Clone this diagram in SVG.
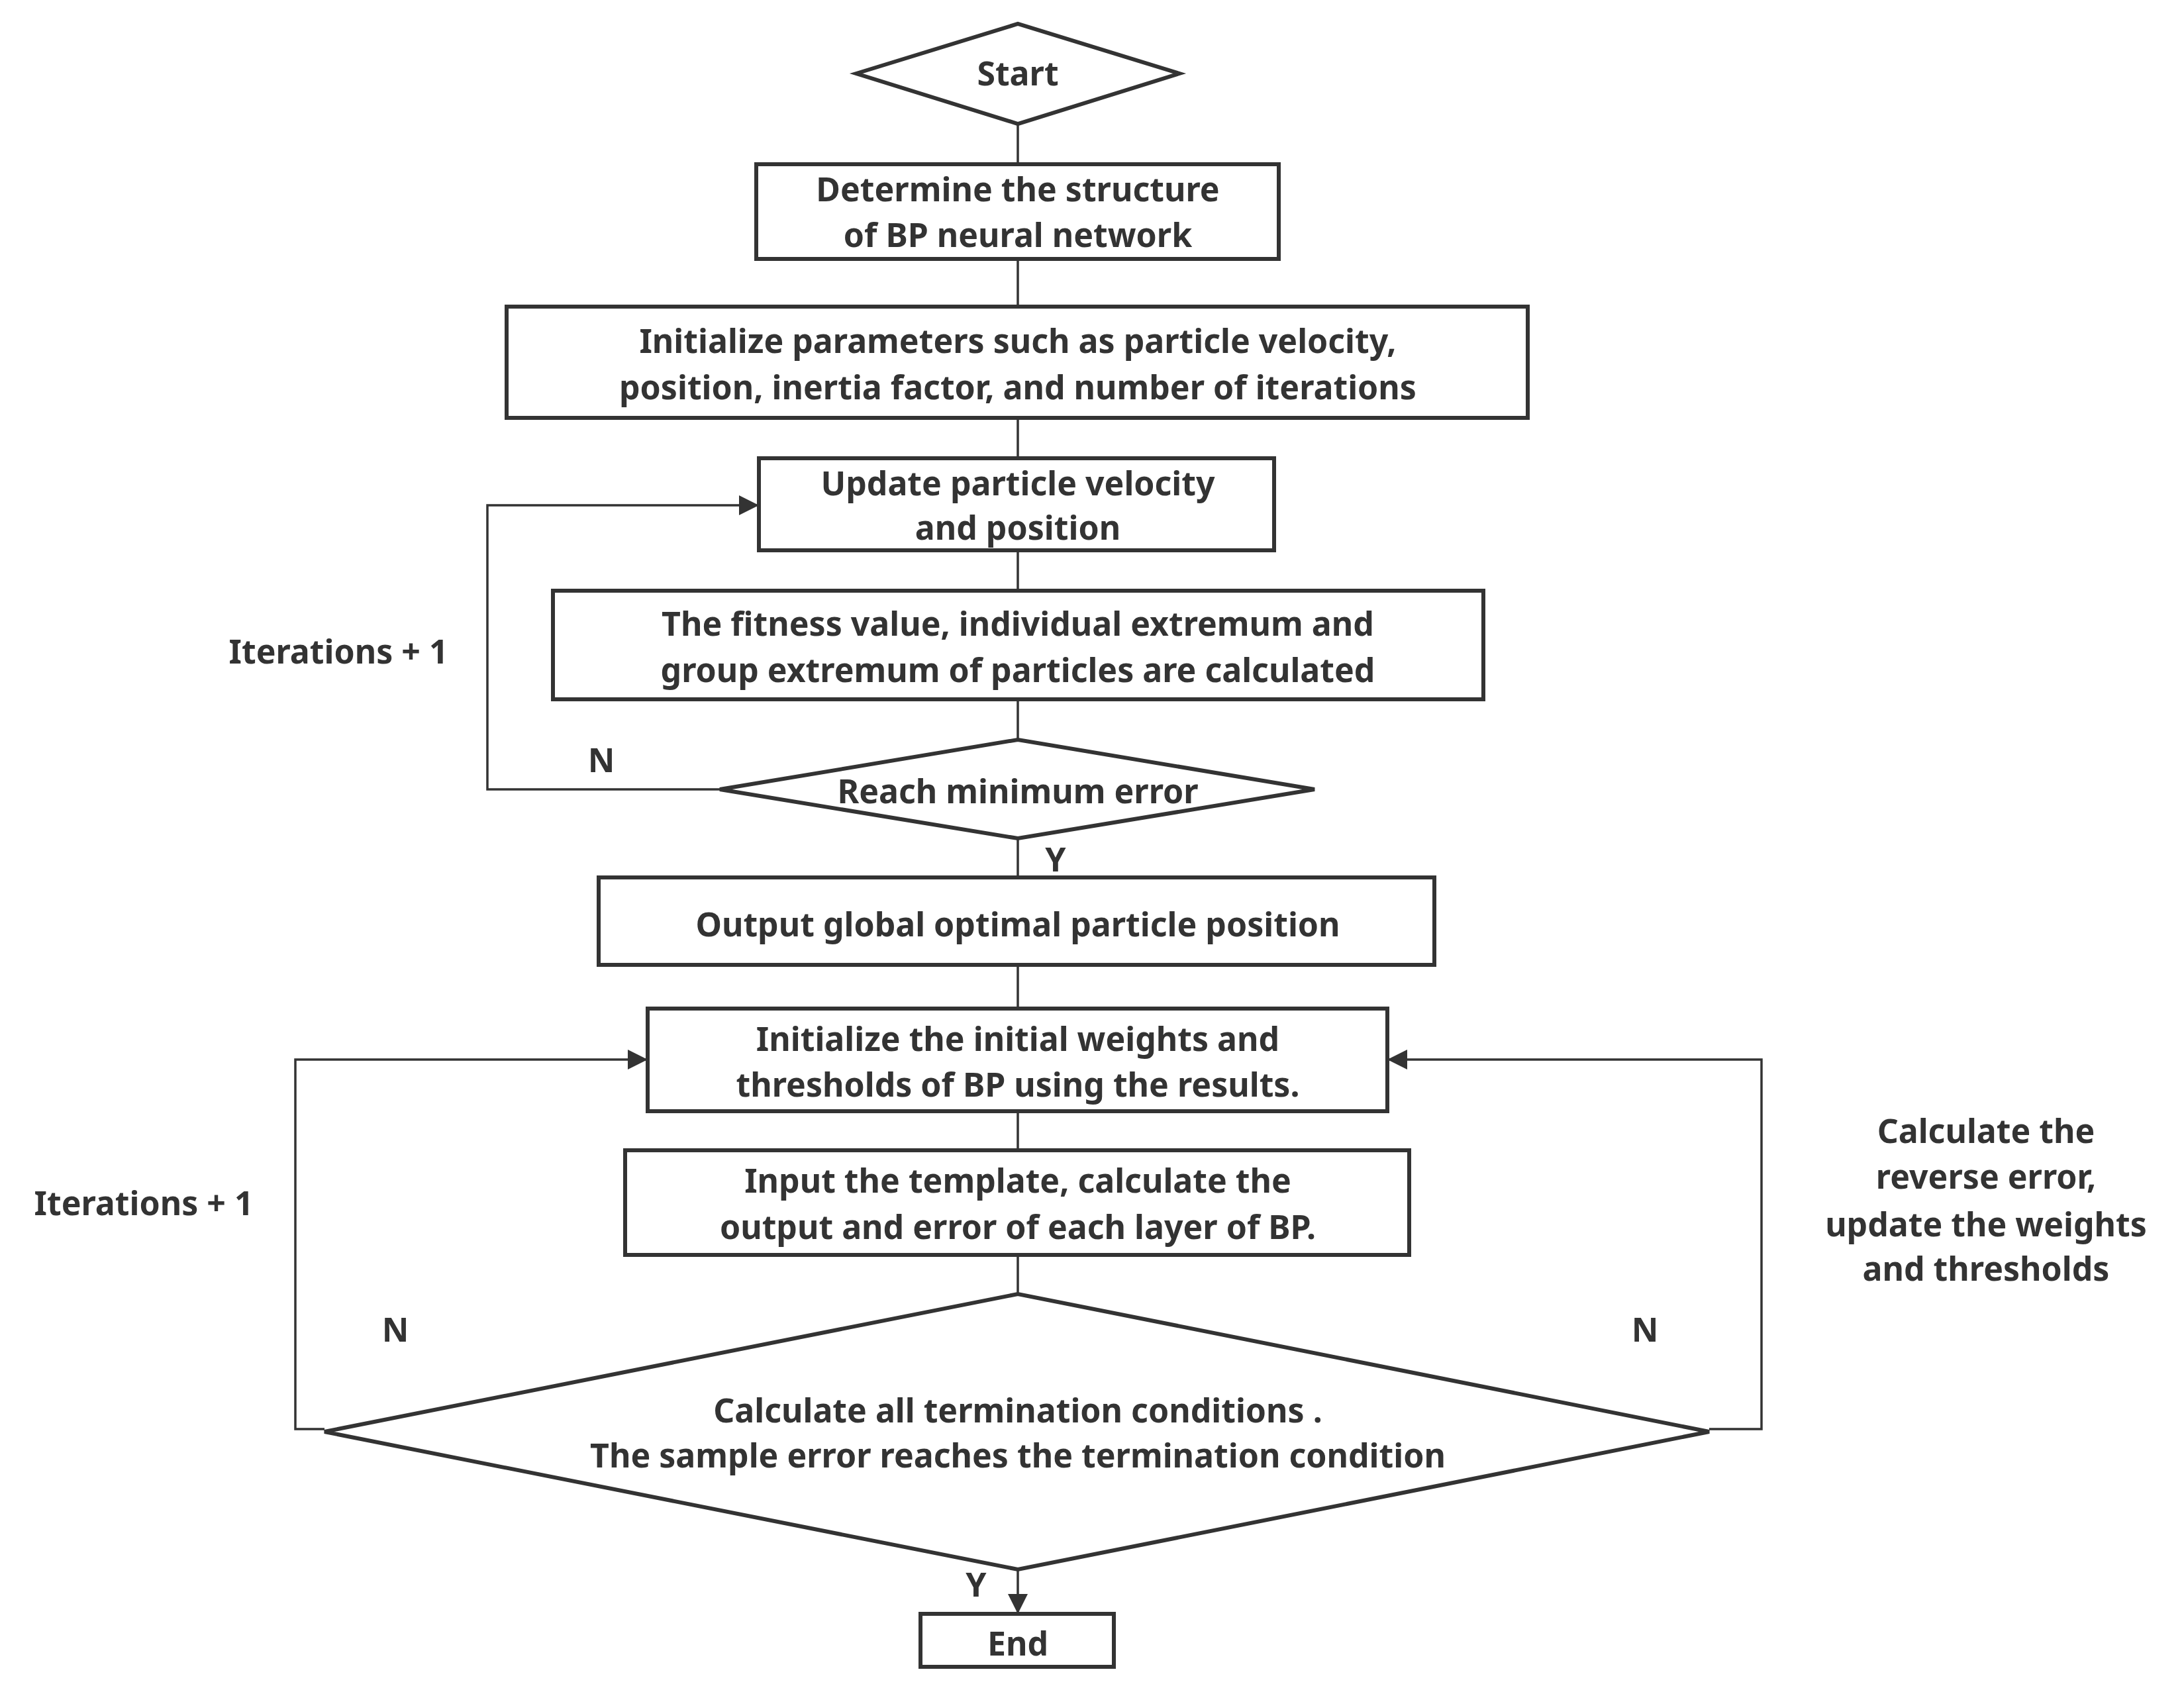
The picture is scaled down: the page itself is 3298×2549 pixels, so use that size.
<svg xmlns="http://www.w3.org/2000/svg" width="3298" height="2549" viewBox="0 0 3298 2549">
<defs>
<marker id="a" markerWidth="10" markerHeight="8" refX="9" refY="4" orient="auto" markerUnits="userSpaceOnUse" viewBox="0 0 10 8">
</marker>
<marker id="ar" viewBox="0 0 10 10" refX="10" refY="5" markerWidth="30" markerHeight="30" markerUnits="userSpaceOnUse" orient="auto"><path d="M0,0 L10,5 L0,10 z" fill="#333"/></marker>
</defs>
<style>
.s{fill:#fff;stroke:#333;stroke-width:6}
.l{fill:none;stroke:#333;stroke-width:3.5}
text{font-family:"Noto Sans","Open Sans",sans-serif;font-weight:bold;font-size:50px;fill:#333;text-anchor:middle}
</style>
<rect width="3298" height="2549" fill="#fff"/>
<g id="connectors">
<path class="l" d="M1537,187V248M1537,391V463M1537,631V692M1537,831V892M1537,1056V1117M1537,1266V1325M1537,1457V1523M1537,1678V1737M1537,1895V1954M1537,2370V2437" marker-end="url(#ar)"/>
<path class="l" d="M1087,1192H736V763H1146" marker-end="url(#ar)"/>
<path class="l" d="M490,2158H446V1600H978" marker-end="url(#ar)"/>
<path class="l" d="M2581,2158H2660V1600H2095" marker-end="url(#ar)"/>
</g>
<g id="start"><polygon class="s" points="1293,111 1537,36 1781,111 1537,187"/><text x="1537" y="129">Start</text></g>
<g id="n1"><rect class="s" x="1142" y="248" width="789" height="143"/><text x="1537" y="304">Determine the structure</text><text x="1537" y="373">of BP neural network</text></g>
<g id="n2"><rect class="s" x="765" y="463" width="1542" height="168"/><text x="1537" y="533">Initialize parameters such as particle velocity,</text><text x="1537" y="603">position, inertia factor, and number of iterations</text></g>
<g id="n3"><rect class="s" x="1146" y="692" width="778" height="139"/><text x="1537" y="748">Update particle velocity</text><text x="1537" y="815">and position</text></g>
<g id="n4"><rect class="s" x="835" y="892" width="1405" height="164"/><text x="1537" y="960">The fitness value, individual extremum and</text><text x="1537" y="1030">group extremum of particles are calculated</text></g>
<g id="d2"><polygon class="s" points="1087,1192 1537,1117 1985,1192 1537,1266"/><text x="1537" y="1213">Reach minimum error</text></g>
<g id="n5"><rect class="s" x="904" y="1325" width="1262" height="132"/><text x="1537" y="1414">Output global optimal particle position</text></g>
<g id="n6"><rect class="s" x="978" y="1523" width="1117" height="155"/><text x="1537" y="1587">Initialize the initial weights and</text><text x="1537" y="1656">thresholds of BP using the results.</text></g>
<g id="n7"><rect class="s" x="944" y="1737" width="1184" height="158"/><text x="1537" y="1801">Input the template, calculate the</text><text x="1537" y="1871">output and error of each layer of BP.</text></g>
<g id="d3"><polygon class="s" points="490,2162 1537,1954 2581,2162 1537,2370"/><text x="1537" y="2148">Calculate all termination conditions .</text><text x="1537" y="2216">The sample error reaches the termination condition</text></g>
<g id="end"><rect class="s" x="1390" y="2437" width="292" height="80"/><text x="1537" y="2500">End</text></g>
<g id="labels">
<text x="511" y="1002">Iterations + 1</text>
<text x="908" y="1166">N</text>
<text x="1594" y="1316">Y</text>
<text x="217" y="1835">Iterations + 1</text>
<text x="597" y="2026">N</text>
<text x="2484" y="2026">N</text>
<text x="1474" y="2411">Y</text>
<text x="2999" y="1726">Calculate the</text>
<text x="2999" y="1795">reverse error,</text>
<text x="2999" y="1867">update the weights</text>
<text x="2999" y="1934">and thresholds</text>
</g>
</svg>
